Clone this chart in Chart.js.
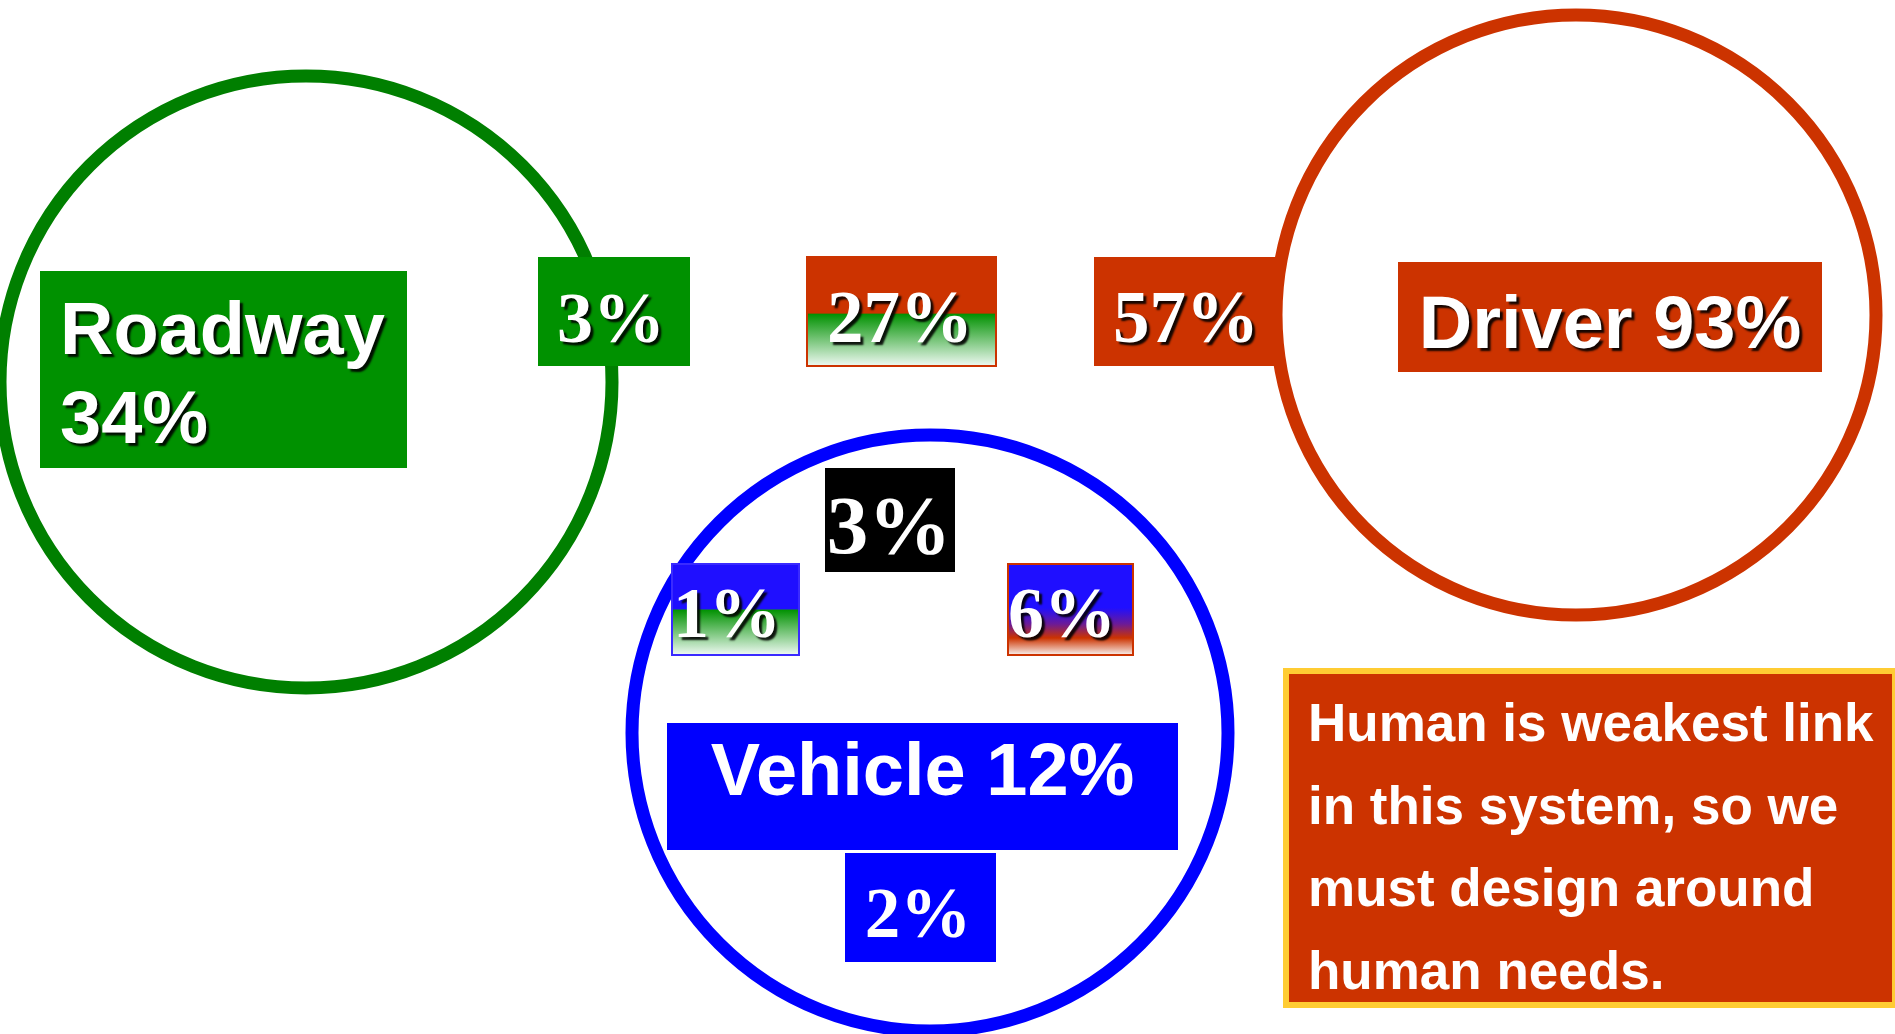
<!DOCTYPE html>
<html>
<head>
<meta charset="utf-8">
<script src="https://cdn.jsdelivr.net/npm/chart.js@4"></script>
<style>
  html, body { margin: 0; padding: 0; background: #ffffff; overflow: hidden; }
  #wrap { width: 1895px; height: 1034px; position: relative; }
</style>
</head>
<body>
<div id="wrap"><canvas id="c" width="1895" height="1034"></canvas></div>
<script>
// ---- data ----
const categories = ['Roadway', 'Driver', 'Vehicle'];
const categoryTotals = [34, 93, 12];
const regionNames = ['Roadway only', 'Roadway + Driver', 'Driver only', 'Roadway + Vehicle', 'All three', 'Driver + Vehicle', 'Vehicle only'];
const regionValues = [3, 27, 57, 1, 3, 6, 2];
const noteLines = ['Human is weakest link', 'in this system, so we', 'must design around', 'human needs.'];

// ---- layout (positions / sizes / styles, in scale units) ----
const GREEN = '#009100', GREEN_LINE = '#007f00', RED = '#cc3300', BLUE = '#0000ff', BLUE2 = '#1f0fff';
const circleLayout = [
  { cx: 306, cy: 382, r: 306, color: GREEN_LINE },
  { cx: 1576, cy: 315, r: 300, color: RED },
  { cx: 930, cy: 733, r: 298, color: BLUE }
];
const catBoxLayout = [
  { x: 40, y: 271, w: 367, h: 197, fill: GREEN, shadow: true, align: 'left', tx: 60, lines: [354, 443], twoLine: true },
  { x: 1398, y: 262, w: 424, h: 110, fill: RED, shadow: true, align: 'center', lines: [348] },
  { x: 667, y: 723, w: 511, h: 127, fill: BLUE, shadow: false, align: 'center', lines: [795] }
];
const regionLayout = [
  { x: 538, y: 257, w: 152, h: 109, fill: GREEN, shadow: true, base: 342, size: 72, tx: 611 },
  { x: 806, y: 256, w: 191, h: 111, fill: 'mix-rg', border: RED, shadow: true, base: 342, size: 73, tx: 900 },
  { x: 1094, y: 257, w: 188, h: 109, fill: RED, shadow: true, base: 342, size: 73, tx: 1186 },
  { x: 671, y: 563, w: 129, h: 93, fill: 'mix-bg', border: '#3a2aff', shadow: true, base: 637, size: 72, tx: 727 },
  { x: 825, y: 468, w: 130, h: 104, fill: '#000000', shadow: false, base: 553, size: 83, tx: 889 },
  { x: 1007, y: 563, w: 127, h: 93, fill: 'mix-br', border: RED, shadow: true, base: 637, size: 72, tx: 1062 },
  { x: 845, y: 853, w: 151, h: 109, fill: BLUE, shadow: false, base: 937, size: 71, tx: 918 }
];
const noteLayout = { x: 1283, y: 668, w: 615, h: 340, border: '#ffcc33', bw: 6, fill: RED, tx: 1308, base: [741, 824, 906, 989], size: 53 };

const SANS = '"Liberation Sans", Arial, Helvetica, sans-serif';
const SERIF = '"Liberation Serif", "Times New Roman", Times, serif';

function rectPx(chart, b) {
  const xs = chart.scales.x, ys = chart.scales.y;
  const x0 = xs.getPixelForValue(b.x), x1 = xs.getPixelForValue(b.x + b.w);
  const y0 = ys.getPixelForValue(b.y), y1 = ys.getPixelForValue(b.y + b.h);
  return { x: x0, y: y0, w: x1 - x0, h: y1 - y0 };
}

function fillBox(ctx, r, fill, border) {
  const bw = border ? 2 : 0;
  const ix = r.x + bw, iy = r.y + bw, iw = r.w - 2 * bw, ih = r.h - 2 * bw;
  if (border) { ctx.fillStyle = border; ctx.fillRect(r.x, r.y, r.w, r.h); }
  if (fill === 'mix-rg' || fill === 'mix-bg') {
    const top = fill === 'mix-rg' ? RED : BLUE2;
    const split = fill === 'mix-rg' ? 0.52 : 0.5;
    ctx.fillStyle = top; ctx.fillRect(ix, iy, iw, ih * split);
    const g = ctx.createLinearGradient(0, iy + ih * split, 0, iy + ih);
    g.addColorStop(0, '#009100'); g.addColorStop(1, '#eaf7ee');
    ctx.fillStyle = g; ctx.fillRect(ix, iy + ih * split, iw, ih * (1 - split));
  } else if (fill === 'mix-br') {
    const g = ctx.createLinearGradient(0, iy, 0, iy + ih);
    g.addColorStop(0, BLUE2); g.addColorStop(0.48, BLUE2);
    g.addColorStop(0.66, '#6a1a9a'); g.addColorStop(0.82, RED);
    g.addColorStop(1, '#f6e6e0');
    ctx.fillStyle = g; ctx.fillRect(ix, iy, iw, ih);
  } else {
    ctx.fillStyle = fill; ctx.fillRect(r.x, r.y, r.w, r.h);
  }
}

function setShadow(ctx, on) {
  if (on) {
    ctx.shadowColor = 'rgba(0,0,0,0.9)'; ctx.shadowOffsetX = 3; ctx.shadowOffsetY = 3; ctx.shadowBlur = 2;
  } else {
    ctx.shadowColor = 'rgba(0,0,0,0)'; ctx.shadowOffsetX = 0; ctx.shadowOffsetY = 0; ctx.shadowBlur = 0;
  }
}

const vennPlugin = {
  id: 'vennBoxes',
  afterDatasetsDraw(chart) {
    const ctx = chart.ctx, xs = chart.scales.x, ys = chart.scales.y;
    ctx.save();
    ctx.textBaseline = 'alphabetic';
    // category boxes
    catBoxLayout.forEach((b, i) => {
      const r = rectPx(chart, b);
      setShadow(ctx, false);
      fillBox(ctx, r, b.fill, null);
      setShadow(ctx, b.shadow);
      ctx.fillStyle = '#ffffff';
      ctx.font = 'bold 74px ' + SANS;
      if (b.twoLine) {
        ctx.textAlign = 'left';
        ctx.fillText(categories[i], xs.getPixelForValue(b.tx), ys.getPixelForValue(b.lines[0]));
        ctx.fillText(categoryTotals[i] + '%', xs.getPixelForValue(b.tx), ys.getPixelForValue(b.lines[1]));
      } else {
        ctx.textAlign = 'center';
        ctx.fillText(categories[i] + ' ' + categoryTotals[i] + '%', r.x + r.w / 2, ys.getPixelForValue(b.lines[0]));
      }
    });
    // region boxes
    regionLayout.forEach((b, i) => {
      const r = rectPx(chart, b);
      setShadow(ctx, false);
      fillBox(ctx, r, b.fill, b.border);
      setShadow(ctx, b.shadow);
      ctx.fillStyle = '#ffffff';
      ctx.textAlign = 'center';
      ctx.font = 'bold ' + b.size + 'px ' + SERIF;
      ctx.fillText(regionValues[i] + '%', xs.getPixelForValue(b.tx), ys.getPixelForValue(b.base));
    });
    // note box
    setShadow(ctx, false);
    const n = noteLayout, nr = rectPx(chart, n);
    ctx.fillStyle = n.border; ctx.fillRect(nr.x, nr.y, nr.w, nr.h);
    ctx.fillStyle = n.fill; ctx.fillRect(nr.x + n.bw, nr.y + n.bw, nr.w - 2 * n.bw, nr.h - 2 * n.bw);
    ctx.fillStyle = '#ffffff'; ctx.textAlign = 'left';
    ctx.font = 'bold ' + n.size + 'px ' + SANS;
    noteLines.forEach((t, i) => ctx.fillText(t, xs.getPixelForValue(n.tx), ys.getPixelForValue(n.base[i])));
    ctx.restore();
  }
};

new Chart(document.getElementById('c'), {
  type: 'scatter',
  data: {
    datasets: [{
      label: 'Factors',
      data: categories.map((c, i) => ({ x: circleLayout[i].cx, y: circleLayout[i].cy, name: c, total: categoryTotals[i] })),
      pointRadius: circleLayout.map(c => c.r),
      pointHoverRadius: circleLayout.map(c => c.r),
      borderColor: circleLayout.map(c => c.color),
      pointBorderColor: circleLayout.map(c => c.color),
      backgroundColor: 'rgba(0,0,0,0)',
      pointBackgroundColor: 'rgba(0,0,0,0)',
      borderWidth: 13,
      pointBorderWidth: 13,
      clip: false
    }]
  },
  options: {
    responsive: false,
    animation: false,
    events: [],
    layout: { padding: 0, autoPadding: false },
    plugins: { legend: { display: false }, tooltip: { enabled: false }, title: { display: false } },
    scales: {
      x: { type: 'linear', min: 0, max: 1895, display: false },
      y: { type: 'linear', min: 0, max: 1034, reverse: true, display: false }
    }
  },
  plugins: [vennPlugin]
});
</script>
</body>
</html>
